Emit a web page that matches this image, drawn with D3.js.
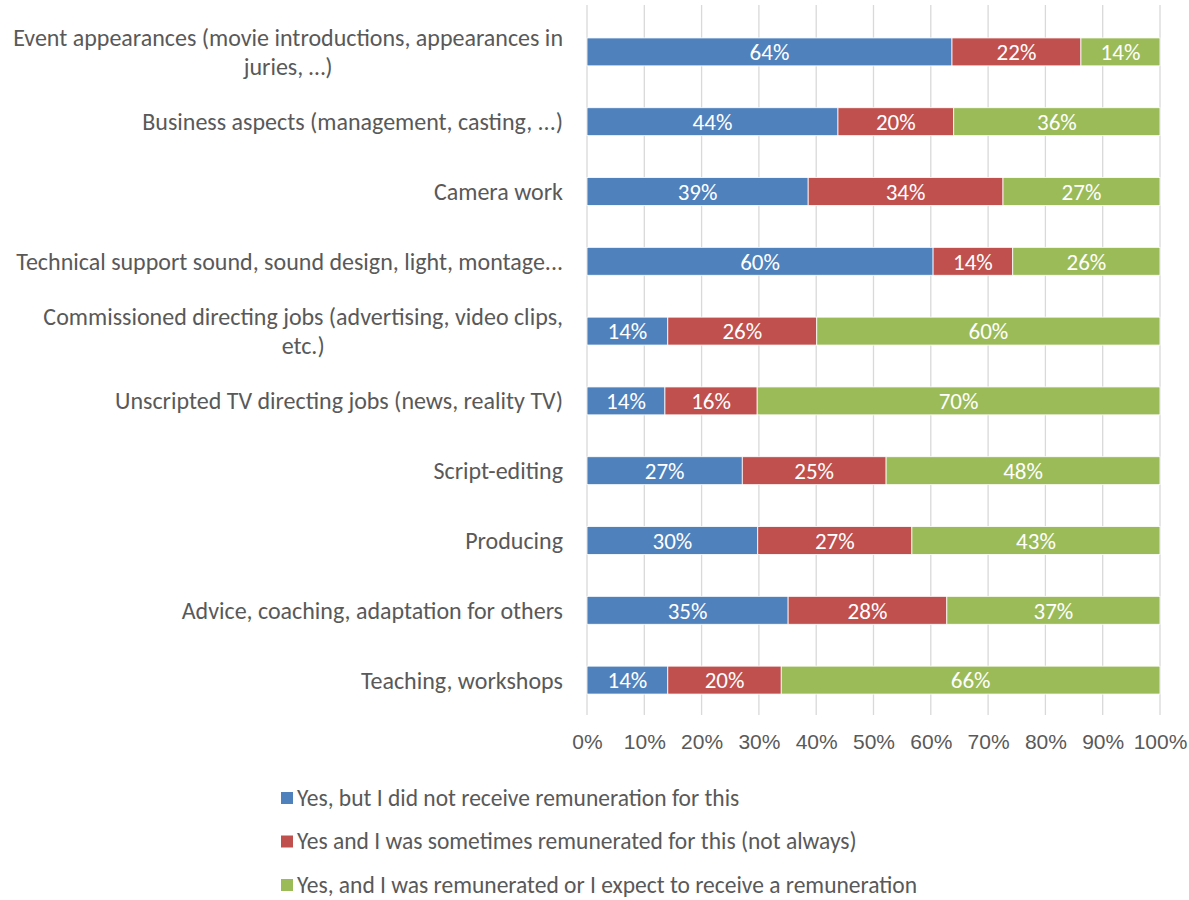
<!DOCTYPE html>
<html>
<head>
<meta charset="utf-8">
<script src="https://cdn.jsdelivr.net/npm/d3@7"></script>
<style>
  html, body { margin: 0; padding: 0; background: #fff; }
  svg { display: block; font-family: Carlito, Calibri, Lato, sans-serif; }
</style>
</head>
<body>
<svg id="chart" width="1189" height="900"></svg>
<script>
const categories = [
  ["Event appearances (movie introductions, appearances in", "juries, …)"],
  ["Business aspects (management, casting, ...)"],
  ["Camera work"],
  ["Technical support sound, sound design, light, montage..."],
  ["Commissioned directing jobs (advertising, video clips,", "etc.)"],
  ["Unscripted TV directing jobs (news, reality TV)"],
  ["Script-editing"],
  ["Producing"],
  ["Advice, coaching, adaptation for others"],
  ["Teaching, workshops"]
];
const seriesNames = [
  "Yes, but I did not receive remuneration for this",
  "Yes and I was sometimes remunerated for this (not always)",
  "Yes, and I was remunerated or I expect to receive a remuneration"
];
const notPaid   = [0.637, 0.438, 0.386, 0.604, 0.141, 0.136, 0.271, 0.298, 0.351, 0.141];
const sometimes = [0.225, 0.202, 0.340, 0.139, 0.260, 0.161, 0.251, 0.269, 0.277, 0.198];
const paid      = [0.138, 0.360, 0.274, 0.257, 0.599, 0.703, 0.478, 0.433, 0.372, 0.661];
const tickValues = [0, 0.1, 0.2, 0.3, 0.4, 0.5, 0.6, 0.7, 0.8, 0.9, 1.0];
const colors = ["#4f81bd", "#c0504d", "#9bbb59"];

const svg = d3.select("#chart");
const x = d3.scaleLinear().domain([0, 1]).range([587, 1160]);
const y = d3.scaleBand().domain(d3.range(categories.length)).range([17, 715]).paddingInner(0.6).paddingOuter(0.3);

// gridlines
svg.append("g").selectAll("line").data(tickValues).join("line")
  .attr("x1", d => x(d)).attr("x2", d => x(d))
  .attr("y1", 5).attr("y2", 715)
  .attr("stroke", "#d9d9d9").attr("stroke-width", 1.3);

// axis labels
const xAxis = d3.axisBottom(x).tickValues(tickValues).tickFormat(d3.format(".0%")).tickSize(0).tickPadding(0);
const ax = svg.append("g").attr("transform", "translate(0,734)").call(xAxis);
ax.select(".domain").remove();
ax.selectAll("text").attr("font-size", 21).attr("fill", "#595959").attr("font-family", null);

// stacked data
const rows = categories.map((c, i) => ({ i, v: [notPaid[i], sometimes[i], paid[i]] }));
const stack = d3.stack().keys([0, 1, 2]).value((d, k) => d.v[k]);
const stacked = stack(rows);

const gBars = svg.append("g");
stacked.forEach((layer, k) => {
  const g = gBars.append("g");
  g.selectAll("rect").data(layer).join("rect")
    .attr("x", d => x(d[0]))
    .attr("width", d => x(d[1]) - x(d[0]))
    .attr("y", d => y(d.data.i))
    .attr("height", y.bandwidth())
    .attr("fill", colors[k])
    .attr("stroke", "#fff").attr("stroke-width", 0.8);
  g.selectAll("text").data(layer).join("text")
    .attr("x", d => (x(d[0]) + x(d[1])) / 2)
    .attr("y", d => y(d.data.i) + y.bandwidth() / 2)
    .attr("dy", "0.36em")
    .attr("text-anchor", "middle")
    .attr("font-size", 23)
    .attr("fill", "#fff")
    .text(d => d3.format(".0%")(d[1] - d[0]));
});

// category labels
const labelRight = 563;
const gLab = svg.append("g");
categories.forEach((lines, i) => {
  const cy = y(i) + y.bandwidth() / 2;
  const t = gLab.append("text").attr("font-size", 24).attr("fill", "#595959").attr("text-anchor", "middle");
  const lh = 29;
  lines.forEach((ln, j) => {
    t.append("tspan").attr("x", 0).attr("y", cy + (j - (lines.length - 1) / 2) * lh).attr("dy", "0.35em").text(ln);
  });
  let w = 0;
  t.selectAll("tspan").each(function() { w = Math.max(w, this.getComputedTextLength()); });
  t.attr("transform", `translate(${labelRight - w / 2},0)`);
});

// legend
const legend = svg.append("g");
seriesNames.forEach((name, k) => {
  const ly = 798 + k * 43.5;
  legend.append("rect").attr("x", 281).attr("y", ly - 6).attr("width", 12).attr("height", 12).attr("fill", colors[k]);
  legend.append("text").attr("x", 297).attr("y", ly).attr("dy", "0.33em").attr("font-size", 23.5).attr("fill", "#595959").text(name);
});
</script>
</body>
</html>
